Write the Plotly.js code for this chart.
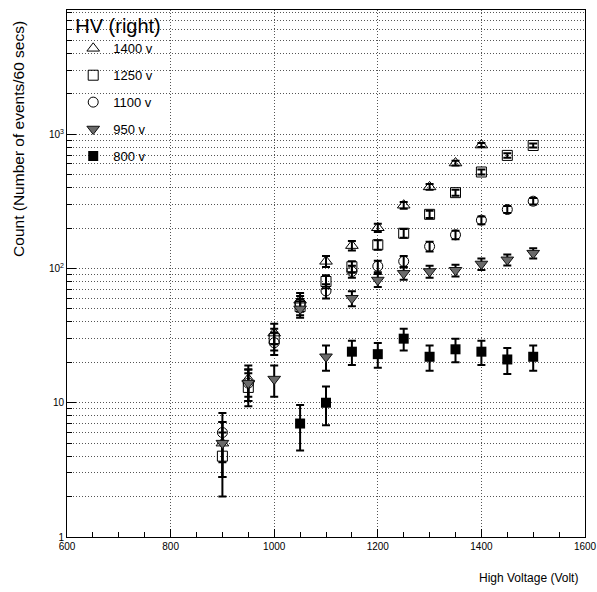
<!DOCTYPE html>
<html>
<head>
<meta charset="utf-8">
<script src="https://cdn.plot.ly/plotly-3.0.1.min.js"></script>
<style>html,body{margin:0;padding:0;background:#fff;}#chart{width:597px;height:592px;}</style>
</head>
<body>
<div id="chart"></div>
<script>
// High voltage settings (Volt)
const hv = [900, 950, 1000, 1050, 1100, 1150, 1200, 1250, 1300, 1350, 1400, 1450, 1500];
const hv1400 = hv.slice(0, 11);
const hv800 = hv.slice(3);

// Counts (number of events / 60 s) for each "right" HV setting
const c1400 = [5, 15, 33, 58, 113, 148, 201, 296, 405, 610, 830];
const e1400 = [2.2, 3.9, 5.7, 7.6, 10.6, 12.2, 14.2, 17.2, 20.1, 24.7, 28.8];
const c1250 = [4, 13, 30, 52, 80, 103, 150, 183, 253, 367, 523, 695, 824];
const e1250 = [2.0, 3.6, 5.5, 7.2, 8.9, 10.1, 12.2, 13.5, 15.9, 19.2, 22.9, 26.4, 28.7];
const c1100 = [6, 14, 28, 55, 68, 95, 104, 113, 146, 178, 229, 275, 317];
const e1100 = [2.4, 3.7, 5.3, 7.4, 8.2, 9.7, 10.2, 10.6, 12.1, 13.3, 15.1, 16.6, 17.8];
const c950 = [5, 14, 15, 50, 22, 60, 82, 92, 95, 97, 108, 116, 130];
const e950 = [2.2, 3.7, 3.9, 7.1, 4.7, 7.7, 9.1, 9.6, 9.7, 9.8, 10.4, 10.8, 11.4];
const c800 = [7, 10, 24, 23, 30, 22, 25, 24, 21, 22];
const e800 = [2.6, 3.2, 4.9, 4.8, 5.5, 4.7, 5.0, 4.9, 4.6, 4.7];

const names = ['1400 v', '1250 v', '1100 v', '950 v', '800 v'];

// axis tick definitions
const xTicks = [600, 800, 1000, 1200, 1400, 1600];
const xTickText = ['600', '800', '1000', '1200', '1400', '1600'];
const yTicks = [1, 10, 100, 1000];
const yTickText = ['1', '10', '10<sup>2</sup>', '10<sup>3</sup>'];
const yMinor = [];
for (const dec of [1, 10, 100, 1000]) {
  for (let d = 2; d <= 9; d++) yMinor.push(d * dec);
}

const errStyle = (arr) => ({type: 'data', array: arr, visible: true, color: '#000', thickness: 2, width: 4});

const traces = [
  {x: hv1400, y: c1400, error_y: errStyle(e1400), name: names[0],
   marker: {symbol: 'triangle-up-open', size: 11, color: '#000', line: {width: 1, color: '#000'}}},
  {x: hv, y: c1250, error_y: errStyle(e1250), name: names[1],
   marker: {symbol: 'square-open', size: 10, color: '#000', line: {width: 1, color: '#000'}}},
  {x: hv, y: c1100, error_y: errStyle(e1100), name: names[2],
   marker: {symbol: 'circle-open', size: 10, color: '#000', line: {width: 1, color: '#000'}}},
  {x: hv, y: c950, error_y: errStyle(e950), name: names[3],
   marker: {symbol: 'triangle-down', size: 11, color: '#6a6a6a', line: {width: 1, color: '#111'}}},
  {x: hv800, y: c800, error_y: errStyle(e800), name: names[4],
   marker: {symbol: 'square', size: 10, color: '#000', line: {width: 0}}}
].map((t, i) => Object.assign(t, {type: 'scatter', mode: 'markers', legendgroup: 'g' + i}));

const font = 'Liberation Sans, Arial, Helvetica, sans-serif';
const gridDash = '1px,2px';
const gridColor = '#555';

const layout = {
  width: 597, height: 592,
  margin: {l: 67, r: 12, t: 7, b: 55},
  paper_bgcolor: '#fff', plot_bgcolor: '#fff',
  font: {family: font, color: '#000', size: 11},
  showlegend: true,
  legend: {
    x: 0.012, y: 1.005, xanchor: 'left', yanchor: 'top',
    bgcolor: 'rgba(0,0,0,0)', borderwidth: 0,
    font: {family: font, size: 13, color: '#000'},
    title: {text: 'HV (right)', font: {family: font, size: 20, color: '#000'}},
    tracegroupgap: 7, itemclick: false
  },
  xaxis: {
    type: 'linear', range: [600, 1600],
    tickmode: 'array', tickvals: xTicks, ticktext: xTickText,
    ticks: 'inside', ticklen: 8, tickwidth: 1, tickcolor: '#000',
    showgrid: true, gridcolor: gridColor, griddash: gridDash, gridwidth: 1,
    minor: {dtick: 50, ticks: 'inside', ticklen: 5, tickwidth: 1, tickcolor: '#000', showgrid: false},
    showline: true, linecolor: '#000', linewidth: 1, mirror: true,
    zeroline: false, tickfont: {family: font, size: 10},
    fixedrange: true
  },
  yaxis: {
    type: 'log', range: [0, 3.925],
    tickmode: 'array', tickvals: yTicks, ticktext: yTickText,
    ticks: 'inside', ticklen: 9, tickwidth: 1, tickcolor: '#000',
    showgrid: true, gridcolor: gridColor, griddash: gridDash, gridwidth: 1,
    minor: {tickmode: 'array', tickvals: yMinor, ticks: 'inside', ticklen: 5, tickwidth: 1, tickcolor: '#000',
            showgrid: true, gridcolor: gridColor, griddash: gridDash, gridwidth: 1},
    showline: true, linecolor: '#000', linewidth: 1, mirror: true,
    zeroline: false, tickfont: {family: font, size: 10},
    fixedrange: true
  },
  annotations: [
    {text: 'High Voltage (Volt)', xref: 'paper', yref: 'paper', x: 0.99, y: -0.078,
     xanchor: 'right', yanchor: 'middle', showarrow: false, font: {family: font, size: 12}},
    {text: 'Count (Number of events/60 secs)', xref: 'paper', yref: 'paper', x: -0.095, y: 0.755,
     xanchor: 'center', yanchor: 'middle', textangle: -90, showarrow: false, font: {family: font, size: 15.5}}
  ]
};

Plotly.newPlot('chart', traces, layout, {displayModeBar: false, staticPlot: true});
</script>
</body>
</html>
